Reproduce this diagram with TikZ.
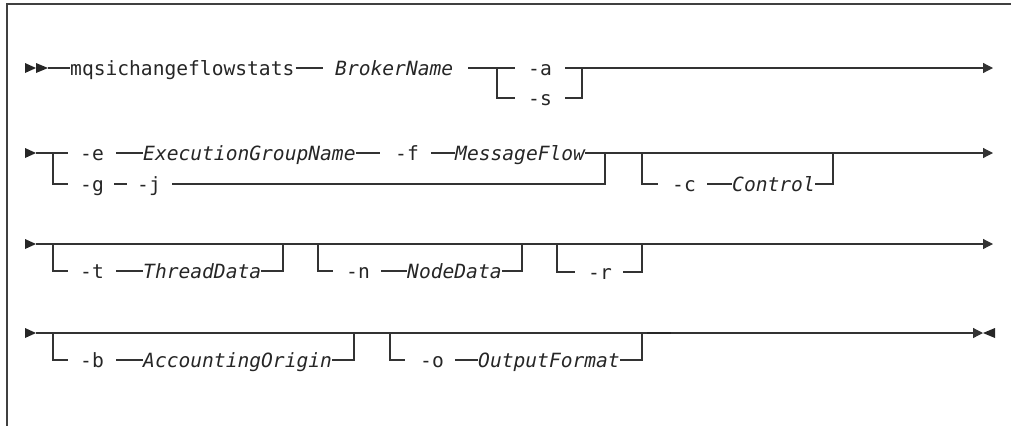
\documentclass[tikz,border=0pt]{standalone}
\usepackage{fontspec}
\newfontfamily\railfont{DejaVu Sans Mono}
\usetikzlibrary{arrows.meta}

\begin{document}
\begin{tikzpicture}[
  x=1pt, y=-1pt,
  rail/.style={draw=black!80, line width=1.2pt},
  kw/.style={font={\railfont\fontsize{19.6}{20}\selectfont}, text=black!85, inner sep=0pt, text height=14pt, text depth=0pt, anchor=west},
  var/.style={kw, font={\railfont\fontsize{19.6}{20}\selectfont\itshape}},
  tip/.style={-{Triangle[length=10pt,width=10pt]}},
  startmark/.style={fill=black!85},
]
  \useasboundingbox (0,0) rectangle (1011,426);
  \draw[line width=1.5pt, black!75] (1011,4) -- (7,4) -- (7,426);

  \coordinate (in1) at (48,68);
  \coordinate (b1l) at (497,68);
  \coordinate (b1r) at (582,68);
  \coordinate (end1) at (993,68);

  \node[kw] (cmd) at (70,68) {mqsichangeflowstats};
  \node[var] (broker) at (335,68) {BrokerName};
  \node[kw] (optA) at (528,68) {-a};
  \node[kw] (optS) at (528,98) {-s};

  \fill[startmark] (25,63) -- (36,68) -- (25,73) -- cycle;
  \fill[startmark] (36,63) -- (48,68) -- (36,73) -- cycle;
  \draw[rail] (in1) -- (cmd);
  \draw[rail, shorten <=1pt, shorten >=12pt] (cmd) -- (broker);
  \draw[rail, shorten <=15pt, shorten >=13pt] (broker) -- (optA);
  \draw[rail, shorten >=13pt] (b1l) |- (optS);
  \draw[rail, shorten <=13pt] (optA) -- (b1r);
  \draw[rail, shorten <=13pt] (optS) -| (b1r);
  \draw[rail, tip] (b1r) -- (end1);

  \coordinate (in2) at (36,153);
  \coordinate (b2l) at (53,153);
  \coordinate (b2r) at (605,153);
  \coordinate (b3l) at (642,153);
  \coordinate (b3r) at (833,153);
  \coordinate (end2) at (993,153);

  \node[kw] (optE) at (80,153) {-e};
  \node[var] (egname) at (143,153) {ExecutionGroupName};
  \node[kw] (optF) at (395,153) {-f};
  \node[var] (mflow) at (455,153) {MessageFlow};
  \node[kw] (optG) at (80,184) {-g};
  \node[kw] (optJ) at (137,184) {-j};
  \node[kw] (optC) at (672,184) {-c};
  \node[var] (control) at (732,184) {Control};

  \fill[startmark] (25,148) -- (36,153) -- (25,158) -- cycle;
  \draw[rail, shorten >=12pt] (in2) -- (optE);
  \draw[rail, shorten >=12pt] (b2l) |- (optG);
  \draw[rail, shorten <=12pt] (optE) -- (egname);
  \draw[rail, shorten >=15pt] (egname) -- (optF);
  \draw[rail, shorten <=12pt] (optF) -- (mflow);
  \draw[rail] (mflow) -- (b2r);
  \draw[rail, shorten <=10pt, shorten >=10pt] (optG) -- (optJ);
  \draw[rail, shorten <=11pt] (optJ) -| (b2r);
  \draw[rail, tip] (b2r) -- (end2);
  \draw[rail, shorten >=14pt] (b3l) |- (optC);
  \draw[rail, shorten <=11pt] (optC) -- (control);
  \draw[rail] (control) -| (b3r);

  \coordinate (in3) at (36,244);
  \coordinate (b4l) at (53,244);
  \coordinate (b4r) at (283,244);
  \coordinate (b5l) at (318,244);
  \coordinate (b5r) at (522,244);
  \coordinate (b6l) at (557,244);
  \coordinate (b6r) at (642,244);
  \coordinate (end3) at (993,244);

  \node[kw] (optT) at (80,271) {-t};
  \node[var] (tdata) at (143,271) {ThreadData};
  \node[kw] (optN) at (346,271) {-n};
  \node[var] (ndata) at (407,271) {NodeData};
  \node[kw] (optR) at (588,272) {-r};

  \fill[startmark] (25,239) -- (36,244) -- (25,249) -- cycle;
  \draw[rail, tip] (in3) -- (end3);
  \draw[rail, shorten >=12pt] (b4l) |- (optT);
  \draw[rail, shorten <=12pt] (optT) -- (tdata);
  \draw[rail] (tdata) -| (b4r);
  \draw[rail, shorten >=13pt] (b5l) |- (optN);
  \draw[rail, shorten <=11pt] (optN) -- (ndata);
  \draw[rail] (ndata) -| (b5r);
  \draw[rail, shorten >=13pt] (b6l) |- (optR);
  \draw[rail, shorten <=11pt] (optR) -| (b6r);

  \coordinate (in4) at (36,333);
  \coordinate (b7l) at (53,333);
  \coordinate (b7r) at (354,333);
  \coordinate (b8l) at (390,333);
  \coordinate (b8r) at (642,333);
  \coordinate (stop4) at (983,333);

  \node[kw] (optB) at (80,360) {-b};
  \node[var] (aorigin) at (143,360) {AccountingOrigin};
  \node[kw] (optO) at (420,360) {-o};
  \node[var] (oformat) at (478,360) {OutputFormat};

  \fill[startmark] (25,328) -- (36,333) -- (25,338) -- cycle;
  \draw[rail, tip] (in4) -- (stop4);
  \fill[startmark] (983,333) -- (995,328) -- (995,338) -- cycle;
  \draw[line width=2.4pt, black!85] (647,333) -- (671,333);
  \draw[rail, shorten >=12pt] (b7l) |- (optB);
  \draw[rail, shorten <=12pt] (optB) -- (aorigin);
  \draw[rail] (aorigin) -| (b7r);
  \draw[rail, shorten >=15pt] (b8l) |- (optO);
  \draw[rail, shorten <=11pt] (optO) -- (oformat);
  \draw[rail] (oformat) -| (b8r);
\end{tikzpicture}
\end{document}
